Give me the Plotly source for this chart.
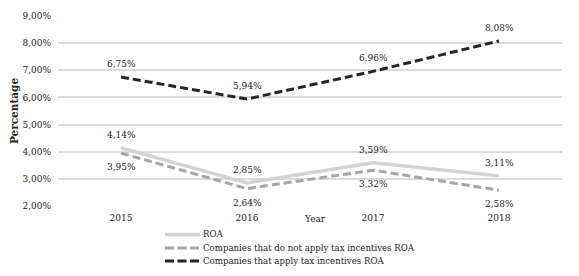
import plotly.graph_objects as go

years = ["2015", "2016", "2017", "2018"]
roa = [4.14, 2.85, 3.59, 3.11]
no_incentive = [3.95, 2.64, 3.32, 2.58]
incentive = [6.75, 5.94, 6.96, 8.08]
names = ["ROA", "Companies that do not apply tax incentives ROA",
         "Companies that apply tax incentives ROA"]
y_ticks = [2, 3, 4, 5, 6, 7, 8, 9]
y_ticklabels = ["2,00%", "3,00%", "4,00%", "5,00%", "6,00%", "7,00%", "8,00%", "9,00%"]

FONT = "DejaVu Serif"
W, H = 579, 276
ML, MR, MT, MB = 58, 17, 16, 70
PW, PH = W - ML - MR, H - MT - MB

def px_x(px):
    return (px - ML) / PW

def px_y(py):
    return (H - MB - py) / PH

def pct(v):
    return f"{v:.2f}".replace(".", ",") + "%"

styles = [
    dict(color="#d3d3d3", width=3.5, dash="solid"),
    dict(color="#a6a6a6", width=3, dash="8px,4px"),
    dict(color="#262626", width=3, dash="8px,4px"),
]
label_shift = [13, -14, 13]
all_vals = [roa, no_incentive, incentive]

fig = go.Figure()
annotations = []
shapes = []
for vals, name, line, shift in zip(all_vals, names, styles, label_shift):
    fig.add_trace(go.Scatter(x=years, y=vals, mode="lines", name=name, line=line,
                             showlegend=False))
    for i, v in enumerate(vals):
        annotations.append(dict(x=i, y=v, xref="x", yref="y", text=pct(v), showarrow=False,
                                yshift=shift, font=dict(family=FONT, size=9, color="#222")))

# legend drawn manually (compact row spacing as in reference)
legend_rows = [234.5, 248, 261]
for name, line, ry in zip(names, styles, legend_rows):
    shapes.append(dict(type="line", xref="paper", yref="paper",
                       x0=px_x(165), x1=px_x(200), y0=px_y(ry), y1=px_y(ry),
                       line=dict(color=line["color"], width=line["width"],
                                 dash="9px,3.5px" if line["dash"] != "solid" else "solid")))
    annotations.append(dict(text=name, x=px_x(201), y=px_y(ry), xref="paper", yref="paper",
                            xanchor="left", yanchor="middle", showarrow=False,
                            font=dict(family=FONT, size=8.6, color="#222")))

annotations.append(dict(text="Year", x=px_x(315), y=px_y(219), xref="paper", yref="paper",
                        showarrow=False, yanchor="middle", font=dict(family=FONT, size=9, color="#222")))

fig.update_layout(
    width=W, height=H,
    margin=dict(l=ML, r=MR, t=MT, b=MB),
    paper_bgcolor="white", plot_bgcolor="white",
    font=dict(family=FONT, size=9, color="#222"),
    showlegend=False,
    xaxis=dict(type="category", range=[-0.5, 3.5], showgrid=False, showline=False,
               zeroline=False, ticks="", ticklabelstandoff=5,
               tickfont=dict(family=FONT, size=9, color="#222")),
    yaxis=dict(range=[2, 9], tickvals=y_ticks, ticktext=y_ticklabels,
               showgrid=True, gridcolor="#dcdcdc", gridwidth=1.5, zeroline=False,
               showline=False, ticks="", ticklabelstandoff=6,
               tickfont=dict(family=FONT, size=9, color="#222"),
               title=dict(text="<b>Percentage</b>", font=dict(family=FONT, size=10.5, color="#222"),
                          standoff=1)),
    annotations=annotations,
    shapes=shapes,
)
fig.write_html("out.html", config={"displayModeBar": False},
               post_script="document.body.style.margin='0';")
